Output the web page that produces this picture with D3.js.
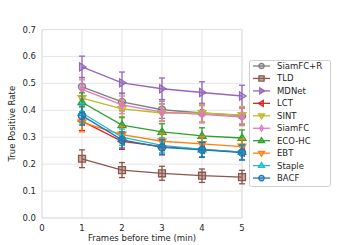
<!DOCTYPE html>
<html>
<head>
<meta charset="utf-8">
<script src="https://cdn.jsdelivr.net/npm/d3@7"></script>
<style>
  body { margin: 0; background: #fff; }
  text { font-family: "DejaVu Sans", sans-serif; fill: #262626; }
</style>
</head>
<body>
<script>
// minuti prima del tempo
var frames = [1, 2, 3, 4, 5];
var trackers = ["SiamFC+R", "TLD", "MDNet", "LCT", "SINT", "SiamFC", "ECO-HC", "EBT", "Staple", "BACF"];
var colors = ["#7f7f7f", "#8c564b", "#9467bd", "#d62728", "#bcbd22", "#e377c2", "#2ca02c", "#ff7f0e", "#17becf", "#1f77b4"];
var markers = ["circle", "square", "right", "left", "down", "diamond", "up", "down", "up", "circle"];

var tpr = [
  [0.487, 0.431, 0.402, 0.390, 0.380], // SiamFC+R
  [0.220, 0.178, 0.166, 0.157, 0.152], // TLD
  [0.561, 0.502, 0.480, 0.466, 0.453], // MDNet
  [0.360, 0.285, 0.265, 0.255, 0.245], // LCT
  [0.445, 0.405, 0.390, 0.390, 0.382], // SINT
  [0.478, 0.420, 0.393, 0.385, 0.375], // SiamFC
  [0.430, 0.345, 0.320, 0.305, 0.297], // ECO-HC
  [0.355, 0.310, 0.285, 0.275, 0.265], // EBT
  [0.390, 0.300, 0.270, 0.255, 0.245], // Staple
  [0.380, 0.290, 0.262, 0.253, 0.243]  // BACF
];
var err = [
  [0.035, 0.033, 0.032, 0.032, 0.032],
  [0.033, 0.028, 0.026, 0.025, 0.025],
  [0.040, 0.040, 0.040, 0.040, 0.040],
  [0.035, 0.030, 0.028, 0.028, 0.028],
  [0.035, 0.033, 0.032, 0.032, 0.032],
  [0.035, 0.033, 0.032, 0.032, 0.032],
  [0.035, 0.030, 0.030, 0.030, 0.030],
  [0.035, 0.030, 0.028, 0.028, 0.028],
  [0.035, 0.030, 0.028, 0.028, 0.028],
  [0.035, 0.030, 0.028, 0.028, 0.028]
];
var xTicks = [0, 1, 2, 3, 4, 5];
var yTicks = [0, 0.1, 0.2, 0.3, 0.4, 0.5, 0.6, 0.7];

var width = 337, height = 245;
var svg = d3.select("body").append("svg").attr("width", width).attr("height", height);

var xScale = d3.scaleLinear().domain([0, 5]).range([42, 242]);
var yScale = d3.scaleLinear().domain([0, 0.7]).range([218, 29.5]);

// griglia
svg.selectAll(".gx").data(xTicks).enter().append("line")
  .attr("x1", d => xScale(d)).attr("x2", d => xScale(d))
  .attr("y1", yScale(0)).attr("y2", yScale(0.7))
  .attr("stroke", "#e5e5e5").attr("stroke-width", 1);
svg.selectAll(".gy").data(yTicks).enter().append("line")
  .attr("x1", xScale(0)).attr("x2", xScale(5))
  .attr("y1", d => yScale(d)).attr("y2", d => yScale(d))
  .attr("stroke", "#e5e5e5").attr("stroke-width", 1);
svg.append("rect").attr("x", xScale(0)).attr("y", yScale(0.7))
  .attr("width", xScale(5) - xScale(0)).attr("height", yScale(0) - yScale(0.7))
  .attr("fill", "none").attr("stroke", "#e0e0e0").attr("stroke-width", 1);

// etichette dei tick
svg.selectAll(".tx").data(xTicks).enter().append("text")
  .attr("x", d => xScale(d)).attr("y", 231)
  .attr("text-anchor", "middle").attr("font-size", 8.5).text(d => d);
svg.selectAll(".ty").data(yTicks).enter().append("text")
  .attr("x", 36).attr("y", d => yScale(d) + 3)
  .attr("text-anchor", "end").attr("font-size", 8.5).text(d => d.toFixed(1));

svg.append("text").attr("x", xScale(2.5)).attr("y", 241)
  .attr("text-anchor", "middle").attr("font-size", 8.5).text("Frames before time (min)");
svg.append("text").attr("transform", "translate(15," + yScale(0.35) + ") rotate(-90)")
  .attr("text-anchor", "middle").attr("font-size", 8.5).text("True Positive Rate");

function markerPath(type, s) {
  var r = s / 2;
  if (type == "circle") return d3.symbol().type(d3.symbolCircle).size(Math.PI * r * r * 0.8)();
  if (type == "square") return d3.symbol().type(d3.symbolSquare).size(s * s * 0.75)();
  if (type == "diamond") return "M0," + (-r) + "L" + (r * 0.6) + ",0L0," + r + "L" + (-r * 0.6) + ",0Z";
  var t = "M" + r + ",0L" + (-r * 0.6) + "," + (-r) + "L" + (-r * 0.6) + "," + r + "Z";
  var rot = {right: 0, down: 90, left: 180, up: -90}[type];
  return {p: t, rot: rot};
}
function drawMarker(g, type, x, y, c, s) {
  var p = markerPath(type, s);
  var el = g.append("path").attr("fill", c).attr("fill-opacity", 0.45)
    .attr("stroke", c).attr("stroke-width", 1.3);
  if (typeof p === "string") el.attr("d", p).attr("transform", "translate(" + x + "," + y + ")");
  else el.attr("d", p.p).attr("transform", "translate(" + x + "," + y + ") rotate(" + p.rot + ")");
}

var line = d3.line().x(d => xScale(d[0])).y(d => yScale(d[1]));

trackers.forEach(function(name, i) {
  var g = svg.append("g");
  var c = colors[i];
  var pts = frames.map((f, j) => [f, tpr[i][j], err[i][j]]);
  // barre di errore
  pts.forEach(function(p) {
    var x = xScale(p[0]);
    g.append("line").attr("x1", x).attr("x2", x)
      .attr("y1", yScale(p[1] - p[2])).attr("y2", yScale(p[1] + p[2]))
      .attr("stroke", c).attr("stroke-width", 1.3);
    [p[1] - p[2], p[1] + p[2]].forEach(function(v) {
      g.append("line").attr("x1", x - 3).attr("x2", x + 3)
        .attr("y1", yScale(v)).attr("y2", yScale(v))
        .attr("stroke", c).attr("stroke-width", 1.3);
    });
  });
  g.append("path").datum(pts).attr("d", line)
    .attr("fill", "none").attr("stroke", c).attr("stroke-width", 1.3);
  pts.forEach(function(p) {
    drawMarker(g, markers[i], xScale(p[0]), yScale(p[1]), c, 8);
  });
});

// legenda
var lg = svg.append("g");
lg.append("rect").attr("x", 249.5).attr("y", 60.5).attr("width", 81).attr("height", 126)
  .attr("rx", 2).attr("fill", "#fff").attr("fill-opacity", 0.85)
  .attr("stroke", "#d0d0d0").attr("stroke-width", 1);
trackers.forEach(function(name, i) {
  var y = 66 + i * 12.45;
  lg.append("line").attr("x1", 253).attr("x2", 270).attr("y1", y).attr("y2", y)
    .attr("stroke", colors[i]).attr("stroke-width", 1.3);
  drawMarker(lg, markers[i], 261.5, y, colors[i], 6);
  lg.append("text").attr("x", 277).attr("y", y + 3).attr("font-size", 8.5).text(name);
});
</script>
</body>
</html>
